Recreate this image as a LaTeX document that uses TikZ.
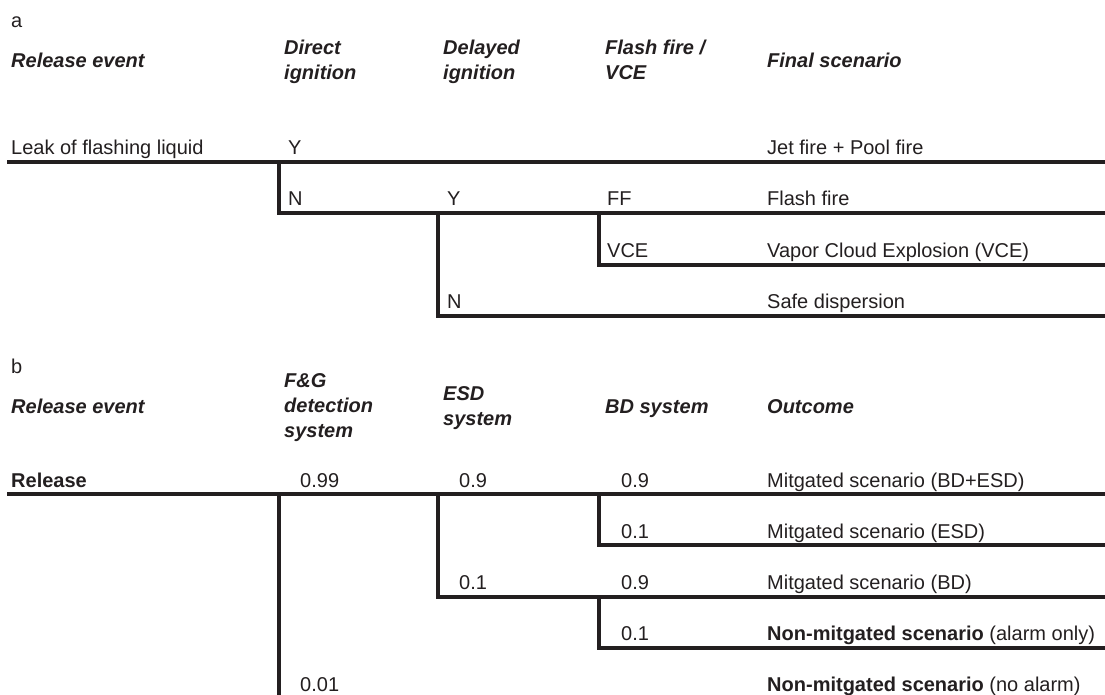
\documentclass[tikz,border=0pt]{standalone}
\usepackage{fontspec}
\setmainfont{Liberation Sans}
\usepackage{tikz}
\usetikzlibrary{calc}
\usepackage{xcolor}
\definecolor{ink}{RGB}{35,31,32}
\newcommand{\treefont}{\fontsize{20}{25}\selectfont}

\begin{document}
\begin{tikzpicture}[
    x=1pt, y=-1pt,
    lbl/.style={anchor=base west,inner sep=0pt,text=ink,font=\treefont},
    hdr/.style={lbl,font=\treefont\bfseries\itshape,align=left},
    branch/.style={draw=ink,line width=3.2pt,line join=miter}
  ]
  \useasboundingbox (0,0) rectangle (1105,695);

  % (a) ignition tree
  \node[lbl] (tagA) at (11,28) {a};
  \node[hdr] (hEventA)  at (11,68)  {Release event};
  \node[hdr] (hDirect)  at (284,80) {Direct\\ignition};
  \node[hdr] (hDelayed) at (443,80) {Delayed\\ignition};
  \node[hdr] (hFlash)   at (605,80) {Flash fire /\\VCE};
  \node[hdr] (hFinal)   at (767,68) {Final scenario};

  \node[lbl] (leak)   at (11,155)  {Leak of flashing liquid};
  \node[lbl] (dirY)   at (288,155) {Y};
  \node[lbl] (jet)    at (767,155) {Jet fire + Pool fire};
  \node[lbl] (dirN)   at (288,206) {N};
  \node[lbl] (delY)   at (447,206) {Y};
  \node[lbl] (ff)     at (607,206) {FF};
  \node[lbl] (flash)  at (767,206) {Flash fire};
  \node[lbl] (vce)    at (607,257) {VCE};
  \node[lbl] (vceOut) at (767,257) {Vapor Cloud Explosion (VCE)};
  \node[lbl] (delN)   at (447,308) {N};
  \node[lbl] (safe)   at (767,308) {Safe dispersion};

  \coordinate (aRoot) at (7,162);
  \coordinate (aDir)  at (279,162);
  \coordinate (aDel)  at (438,213);
  \coordinate (aFF)   at (599,213);
  \coordinate (aEnd1) at (1105,162);
  \coordinate (aEnd2) at (1105,213);
  \coordinate (aEnd3) at (1105,265);
  \coordinate (aEnd4) at (1105,316);

  \draw[branch] (aRoot) -- (aEnd1);
  \draw[branch] (aDir) |- (aEnd2);
  \draw[branch] (aFF) |- (aEnd3);
  \draw[branch] (aDel) |- (aEnd4);

  % (b) safety barriers tree
  \node[lbl] (tagB) at (11,373) {b};
  \node[hdr] (hEventB) at (11,413)  {Release event};
  \node[hdr] (hFG)     at (284,437) {F\&G\\detection\\system};
  \node[hdr] (hESD)    at (443,425) {ESD\\system};
  \node[hdr] (hBD)     at (605,413) {BD system};
  \node[hdr] (hOut)    at (767,413) {Outcome};

  \node[lbl] (rel)   at (11,487)  {\textbf{Release}};
  \node[lbl] (fgY)   at (300,487) {0.99};
  \node[lbl] (esdY)  at (459,487) {0.9};
  \node[lbl] (bdYa)  at (621,487) {0.9};
  \node[lbl] (out1)  at (767,487) {Mitgated scenario (BD+ESD)};
  \node[lbl] (bdNa)  at (621,538) {0.1};
  \node[lbl] (out2)  at (767,538) {Mitgated scenario (ESD)};
  \node[lbl] (esdN)  at (459,589) {0.1};
  \node[lbl] (bdYb)  at (621,589) {0.9};
  \node[lbl] (out3)  at (767,589) {Mitgated scenario (BD)};
  \node[lbl] (bdNb)  at (621,640) {0.1};
  \node[lbl] (out4)  at (767,640) {\textbf{Non-mitgated scenario} (alarm only)};
  \node[lbl] (fgN)   at (300,691) {0.01};
  \node[lbl] (out5)  at (767,691) {\textbf{Non-mitgated scenario} (no alarm)};

  \coordinate (bRoot) at (7,494);
  \coordinate (bFG)   at (279,494);
  \coordinate (bESD)  at (438,494);
  \coordinate (bBDa)  at (599,494);
  \coordinate (bBDb)  at (599,597);
  \coordinate (bBot)  at (279,697);
  \coordinate (bEnd1) at (1105,494);
  \coordinate (bEnd2) at (1105,545);
  \coordinate (bEnd3) at (1105,597);
  \coordinate (bEnd4) at (1105,648);

  \draw[branch] (bRoot) -- (bEnd1);
  \draw[branch] (bBDa) |- (bEnd2);
  \draw[branch] (bESD) |- (bEnd3);
  \draw[branch] (bBDb) |- (bEnd4);
  \draw[branch] (bFG) -- (bBot);
\end{tikzpicture}
\end{document}
